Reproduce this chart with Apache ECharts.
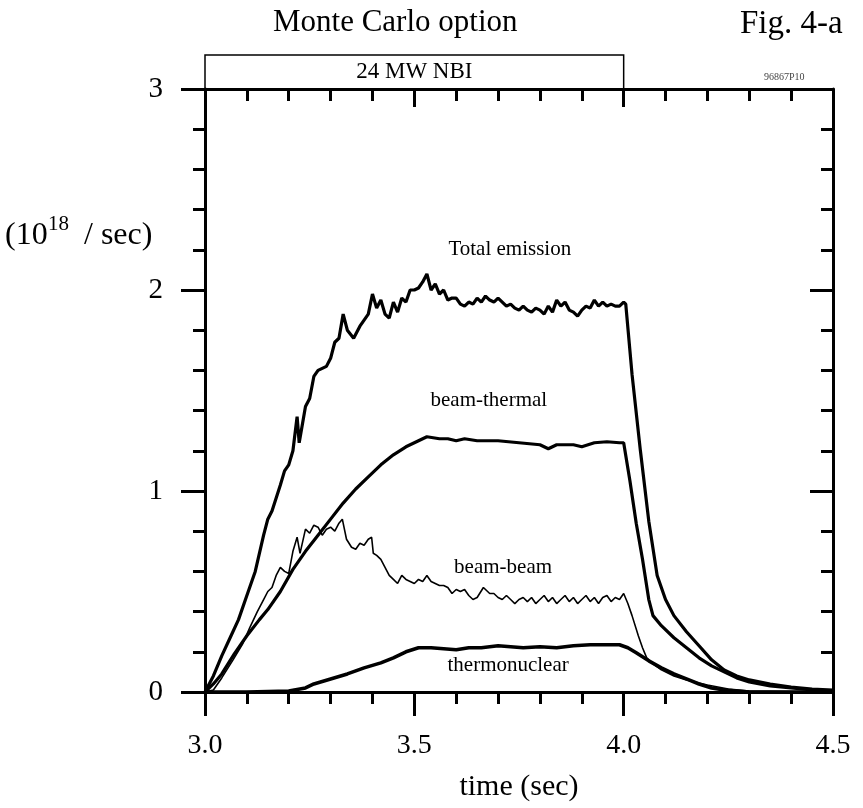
<!DOCTYPE html>
<html><head><meta charset="utf-8">
<script src="https://cdn.jsdelivr.net/npm/echarts@6/dist/echarts.min.js"></script>
<style>html,body{margin:0;padding:0;background:#fff}#c{width:863px;height:808px}</style>
</head><body><div id="c"></div>
<script>
// ---- data (time in sec, rate in 10^18 / sec) ----
const xTickLabels = ['3.0', '3.5', '4.0', '4.5'];
const yTickLabels = ['0', '1', '2', '3'];
const seriesNames = ['Total emission', 'beam-thermal', 'beam-beam', 'thermonuclear'];

const totalEmission = [
  [3.00,0.00],[3.02,0.08],[3.04,0.18],[3.06,0.27],[3.08,0.36],[3.10,0.48],[3.12,0.60],[3.14,0.78],
  [3.15,0.86],[3.16,0.90],[3.18,1.03],[3.19,1.10],[3.20,1.13],[3.21,1.20],[3.22,1.37],[3.225,1.24],
  [3.24,1.42],[3.25,1.46],[3.26,1.57],[3.27,1.60],[3.29,1.62],[3.30,1.66],[3.31,1.74],[3.32,1.76],
  [3.33,1.88],[3.34,1.80],[3.355,1.76],[3.37,1.82],[3.38,1.85],[3.39,1.88],[3.40,1.98],[3.41,1.91],
  [3.42,1.95],[3.43,1.88],[3.44,1.86],[3.45,1.94],[3.46,1.89],[3.47,1.96],[3.48,1.94],[3.49,2.00],
  [3.50,2.00],[3.51,2.01],[3.52,2.04],[3.53,2.08],[3.54,2.00],[3.55,2.03],[3.56,1.98],[3.57,2.00],
  [3.58,1.95],[3.59,1.96],[3.60,1.96],[3.61,1.93],[3.62,1.92],[3.63,1.94],[3.64,1.93],[3.65,1.96],
  [3.66,1.94],[3.67,1.97],[3.68,1.95],[3.69,1.94],[3.70,1.96],[3.71,1.94],[3.72,1.92],[3.73,1.93],
  [3.74,1.91],[3.75,1.90],[3.76,1.92],[3.77,1.90],[3.78,1.89],[3.79,1.91],[3.80,1.90],[3.81,1.88],
  [3.82,1.92],[3.83,1.89],[3.84,1.95],[3.85,1.92],[3.86,1.94],[3.87,1.90],[3.88,1.89],[3.89,1.87],
  [3.90,1.90],[3.91,1.92],[3.92,1.91],[3.93,1.95],[3.94,1.92],[3.95,1.94],[3.96,1.92],[3.97,1.93],
  [3.98,1.92],[3.99,1.92],[4.00,1.94],[4.005,1.93],[4.02,1.58],[4.04,1.20],[4.06,0.85],[4.08,0.58],
  [4.10,0.46],[4.12,0.38],[4.15,0.30],[4.18,0.23],[4.21,0.16],[4.24,0.11],[4.27,0.08],[4.30,0.06],
  [4.35,0.04],[4.40,0.025],[4.45,0.015],[4.50,0.01]
];

const beamThermal = [
  [3.00,0.00],[3.02,0.04],[3.04,0.09],[3.07,0.19],[3.10,0.28],[3.13,0.36],[3.15,0.41],[3.18,0.50],
  [3.21,0.61],[3.24,0.70],[3.27,0.78],[3.30,0.86],[3.33,0.94],[3.36,1.01],[3.39,1.07],[3.42,1.13],
  [3.45,1.18],[3.48,1.22],[3.50,1.24],[3.53,1.27],[3.56,1.26],[3.58,1.26],[3.60,1.25],[3.62,1.26],
  [3.65,1.25],[3.70,1.25],[3.75,1.24],[3.80,1.23],[3.82,1.21],[3.84,1.23],[3.88,1.23],[3.90,1.22],
  [3.93,1.24],[3.96,1.245],[3.99,1.24],[4.00,1.24],[4.015,1.05],[4.03,0.84],[4.045,0.66],[4.06,0.46],
  [4.07,0.38],[4.09,0.33],[4.12,0.27],[4.15,0.22],[4.18,0.17],[4.21,0.13],[4.24,0.10],[4.27,0.07],
  [4.30,0.05],[4.35,0.03],[4.40,0.02],[4.45,0.01],[4.50,0.005]
];

const beamBeam = [
  [3.00,0.00],[3.02,0.01],[3.04,0.07],[3.067,0.16],[3.09,0.24],[3.107,0.32],[3.125,0.40],[3.14,0.46],
  [3.15,0.50],[3.16,0.52],[3.17,0.58],[3.18,0.62],[3.19,0.60],[3.20,0.59],[3.21,0.70],[3.22,0.77],
  [3.227,0.69],[3.24,0.81],[3.25,0.79],[3.26,0.83],[3.27,0.82],[3.28,0.78],[3.29,0.81],[3.30,0.82],
  [3.31,0.80],[3.32,0.84],[3.328,0.86],[3.338,0.76],[3.35,0.72],[3.36,0.71],[3.37,0.74],[3.38,0.73],
  [3.39,0.76],[3.398,0.77],[3.402,0.69],[3.41,0.68],[3.42,0.66],[3.43,0.62],[3.44,0.58],[3.45,0.56],
  [3.46,0.54],[3.47,0.58],[3.48,0.56],[3.49,0.55],[3.50,0.54],[3.51,0.56],[3.52,0.55],[3.53,0.58],
  [3.54,0.55],[3.55,0.54],[3.56,0.53],[3.57,0.53],[3.58,0.52],[3.59,0.49],[3.60,0.51],[3.61,0.50],
  [3.62,0.51],[3.63,0.48],[3.64,0.46],[3.65,0.47],[3.665,0.52],[3.68,0.49],[3.69,0.49],[3.70,0.47],
  [3.71,0.46],[3.72,0.48],[3.73,0.46],[3.74,0.44],[3.75,0.46],[3.76,0.47],[3.77,0.45],[3.78,0.47],
  [3.79,0.44],[3.80,0.46],[3.81,0.48],[3.82,0.45],[3.83,0.47],[3.84,0.44],[3.85,0.46],[3.86,0.48],
  [3.87,0.45],[3.88,0.47],[3.89,0.44],[3.90,0.46],[3.91,0.48],[3.92,0.45],[3.93,0.47],[3.94,0.44],
  [3.95,0.47],[3.96,0.48],[3.97,0.45],[3.98,0.47],[3.99,0.46],[4.00,0.49],[4.01,0.44],[4.02,0.38],
  [4.035,0.28],[4.045,0.22],[4.055,0.17],[4.07,0.14],[4.09,0.11],[4.12,0.08],[4.15,0.06],[4.20,0.035],
  [4.25,0.015],[4.30,0.005],[4.50,0.00]
];

const thermonuclear = [
  [3.00,0.00],[3.10,0.00],[3.20,0.005],[3.24,0.02],[3.26,0.04],[3.30,0.065],[3.34,0.09],[3.38,0.12],
  [3.42,0.145],[3.45,0.17],[3.48,0.20],[3.51,0.22],[3.54,0.22],[3.57,0.215],[3.60,0.21],[3.63,0.22],
  [3.66,0.22],[3.70,0.23],[3.73,0.225],[3.76,0.22],[3.80,0.225],[3.84,0.22],[3.88,0.23],[3.92,0.235],
  [3.96,0.235],[3.99,0.235],[4.01,0.22],[4.03,0.195],[4.06,0.155],[4.09,0.12],[4.12,0.09],[4.15,0.065],
  [4.18,0.04],[4.21,0.02],[4.24,0.01],[4.30,0.00],[4.50,0.00]
];

// label anchor points in data coordinates
const labelAnchors = [[3.728,2.20],[3.678,1.45],[3.712,0.62],[3.724,0.13]];
const nbiWindow = [3.0, 4.0];

// ---- chart ----
const SERIF = "'Liberation Serif','Times New Roman',serif";
const chart = echarts.init(document.getElementById('c'));
const axisLine = {show:true, onZero:false, lineStyle:{color:'#000', width:3}};

chart.setOption({
  backgroundColor:'#fff',
  animation:false,
  grid:{left:205, right:30, top:89, bottom:116},
  xAxis:[
    {type:'value', position:'bottom', min:3, max:4.5, interval:0.5,
     axisLine:axisLine,
     axisTick:{show:true, inside:false, length:24, lineStyle:{color:'#000', width:3}},
     minorTick:{show:true, splitNumber:5, length:12, lineStyle:{color:'#000', width:3}},
     splitLine:{show:false}, minorSplitLine:{show:false},
     axisLabel:{show:true, margin:40, fontFamily:SERIF, fontSize:28, color:'#000',
       formatter:(v)=>xTickLabels[Math.round((v-3)/0.5)]},
     name:'time (sec)', nameLocation:'middle', nameGap:80,
     nameTextStyle:{fontFamily:SERIF, fontSize:30, color:'#000'}
    },
    {type:'value', position:'top', min:3, max:4.5, interval:0.5,
     axisLine:axisLine,
     axisTick:{show:true, inside:true, length:18, lineStyle:{color:'#000', width:3}},
     minorTick:{show:true, splitNumber:5, length:12, lineStyle:{color:'#000', width:3}},
     splitLine:{show:false}, axisLabel:{show:false}
    }
  ],
  yAxis:[
    {type:'value', position:'left', min:0, max:3, interval:1,
     axisLine:axisLine,
     axisTick:{show:true, inside:false, length:24, lineStyle:{color:'#000', width:3}},
     minorTick:{show:true, splitNumber:5, length:12, lineStyle:{color:'#000', width:3}},
     splitLine:{show:false}, minorSplitLine:{show:false},
     axisLabel:{show:true, margin:42, fontFamily:SERIF, fontSize:29, color:'#000',
       formatter:(v)=>yTickLabels[Math.round(v)]}
    },
    {type:'value', position:'right', min:0, max:3, interval:1,
     axisLine:axisLine,
     axisTick:{show:true, inside:true, length:23, lineStyle:{color:'#000', width:3}},
     minorTick:{show:true, splitNumber:5, length:12, lineStyle:{color:'#000', width:3}},
     splitLine:{show:false}, axisLabel:{show:false}
    }
  ],
  series:[
    {name:seriesNames[0], type:'line', data:totalEmission, showSymbol:false, lineStyle:{color:'#000', width:3.2}, z:3},
    {name:seriesNames[1], type:'line', data:beamThermal, showSymbol:false, lineStyle:{color:'#000', width:3.2}, z:3},
    {name:seriesNames[2], type:'line', data:beamBeam, showSymbol:false, lineStyle:{color:'#000', width:1.6}, z:3},
    {name:seriesNames[3], type:'line', data:thermonuclear, showSymbol:false, lineStyle:{color:'#000', width:3.6}, z:3}
  ]
});

function px(p){ return chart.convertToPixel({xAxisIndex:0, yAxisIndex:0}, p); }
const gTop = 89;
const bx0 = px([nbiWindow[0],3])[0], bx1 = px([nbiWindow[1],3])[0];
const graphics = [
  {type:'text', x:273, y:23, style:{text:'Monte Carlo option', font:`31px ${SERIF}`, fill:'#000', verticalAlign:'middle'}},
  {type:'text', x:740, y:24, style:{text:'Fig. 4-a', font:`33px ${SERIF}`, fill:'#000', verticalAlign:'middle'}},
  {type:'polyline', shape:{points:[[bx0,gTop],[bx0,55],[bx1,55],[bx1,gTop]]}, style:{stroke:'#000', lineWidth:1.5, fill:null}},
  {type:'text', x:(bx0+bx1)/2, y:72, style:{text:'24 MW NBI', font:`23px ${SERIF}`, fill:'#000', align:'center', verticalAlign:'middle'}},
  {type:'text', x:764, y:77, style:{text:'96867P10', font:`10px ${SERIF}`, fill:'#444', verticalAlign:'middle'}},
  // y axis unit label (10^18 / sec)
  {type:'text', x:5, y:236, style:{text:'(10', font:`32px ${SERIF}`, fill:'#000', verticalAlign:'middle'}},
  {type:'text', x:48, y:224, style:{text:'18', font:`21px ${SERIF}`, fill:'#000', verticalAlign:'middle'}},
  {type:'text', x:84, y:236, style:{text:'/ sec)', font:`32px ${SERIF}`, fill:'#000', verticalAlign:'middle'}}
];
seriesNames.forEach((n,i)=>{
  const p = px(labelAnchors[i]);
  graphics.push({type:'text', x:p[0], y:p[1], style:{text:n, font:`21px ${SERIF}`, fill:'#000', align:'center', verticalAlign:'middle'}});
});
chart.setOption({graphic:graphics});
</script></body></html>
